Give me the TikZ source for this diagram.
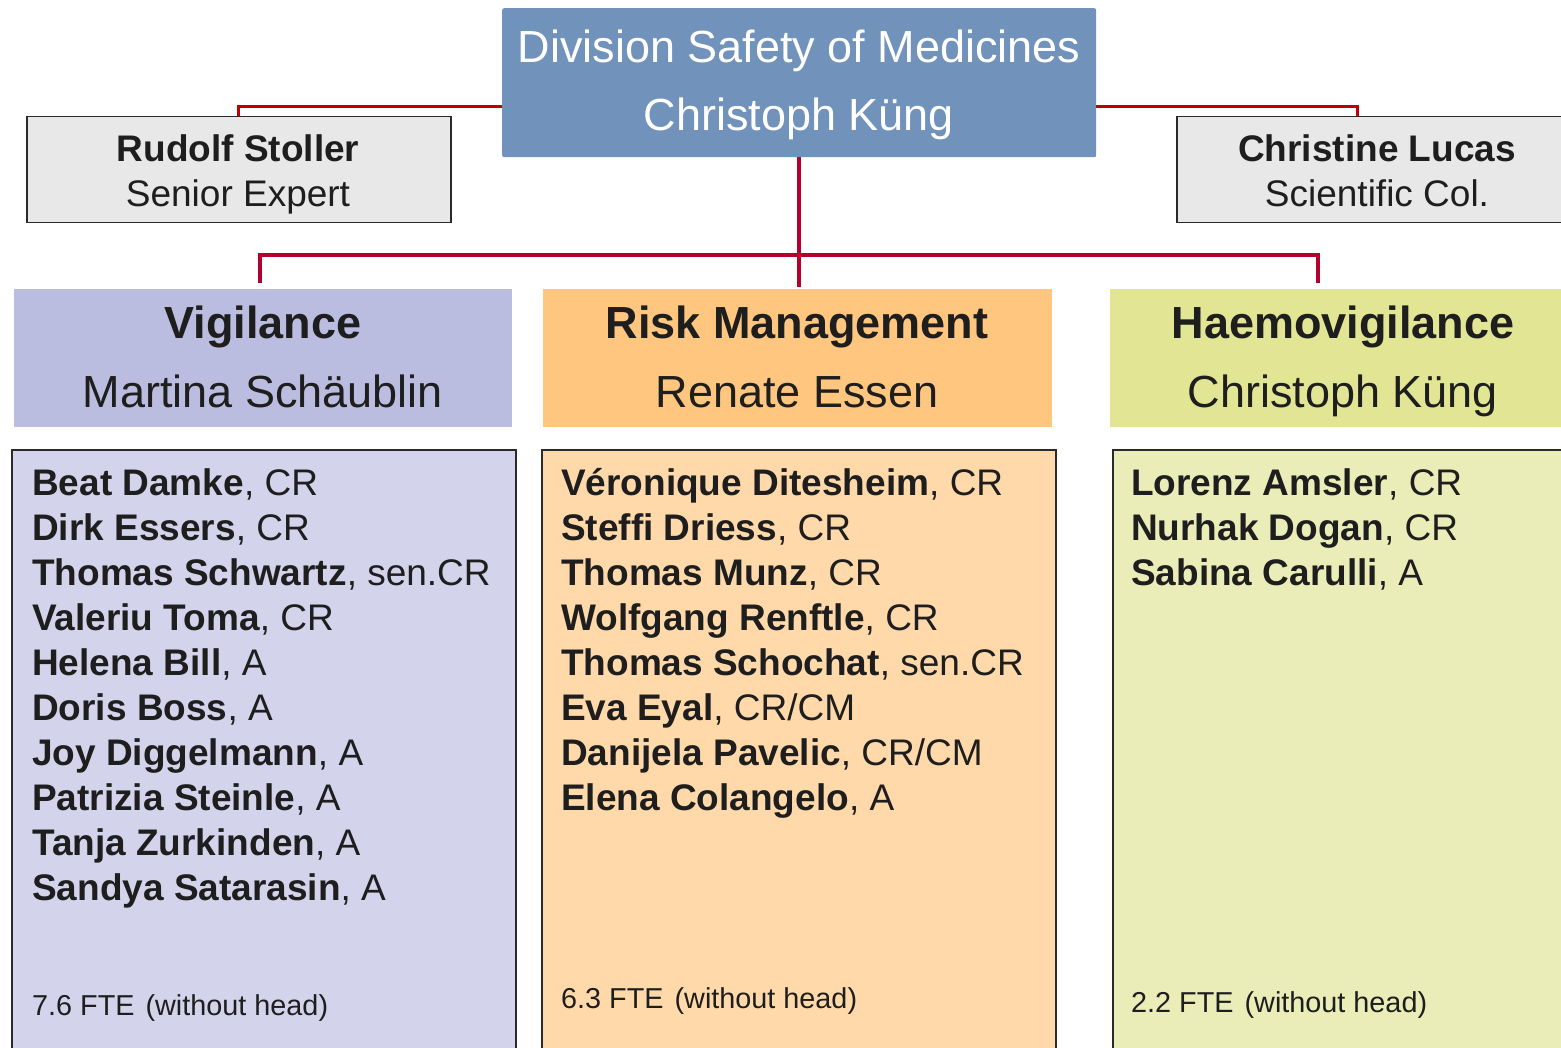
\documentclass[tikz,border=0pt]{standalone}
\usepackage{fontspec}
\setmainfont{Liberation Sans}
\usetikzlibrary{positioning}

\definecolor{headblue}{HTML}{7092BB}
\definecolor{aidegray}{HTML}{E8E8E8}
\definecolor{boxline}{HTML}{2A2A2A}
\definecolor{ink}{HTML}{1E1E1E}
\definecolor{topred}{HTML}{C00000}
\definecolor{busred}{HTML}{B3002C}
\definecolor{vighead}{HTML}{BBBDE0}
\definecolor{vigbody}{HTML}{D3D3EC}
\definecolor{riskhead}{HTML}{FFC680}
\definecolor{riskbody}{HTML}{FFD9AA}
\definecolor{haemohead}{HTML}{E1E594}
\definecolor{haemobody}{HTML}{EBEDB8}

\tikzset{
  chief/.style={rectangle, fill=headblue, rounded corners=2pt, inner sep=0pt, anchor=north west},
  aide/.style={rectangle, draw=boxline, line width=1.5pt, fill=aidegray, inner sep=0pt, anchor=north west},
  unit/.style={rectangle, inner sep=0pt, anchor=north west},
  staff/.style={rectangle, draw=boxline, line width=1.5pt, inner sep=0pt, anchor=north west},
  big/.style={font=\fontsize{45}{54}\selectfont, text=ink, anchor=base, inner sep=0pt},
  mid/.style={font=\fontsize{37}{45}\selectfont, text=ink, inner sep=0pt},
  small/.style={font=\fontsize{28.8}{34}\selectfont, text=ink, anchor=base west, inner sep=0pt},
  topline/.style={draw=topred, line width=3.3pt},
  busline/.style={draw=busred, line width=4pt}
}

\begin{document}
\begin{tikzpicture}[x=1pt,y=-1pt]
    \useasboundingbox (0,0) rectangle (1561,1048);
    \clip (0,0) rectangle (1561,1048);

    % boxes
    \node[chief, minimum width=594pt, minimum height=149pt] (head) at (502,8) {};
    \node[aide, minimum width=424pt, minimum height=106pt] (rudolf) at (26,116) {};
    \node[aide, minimum width=402pt, minimum height=106pt] (christine) at (1176,116) {};

    \node[unit, fill=vighead, minimum width=498pt, minimum height=138pt] (vig) at (14,289) {};
    \node[unit, fill=riskhead, minimum width=509pt, minimum height=138pt] (risk) at (543,289) {};
    \node[unit, fill=haemohead, minimum width=466pt, minimum height=138pt] (haemo) at (1110,289) {};

    \node[staff, fill=vigbody, minimum width=504pt, minimum height=620pt] (vigstaff) at (11,449) {};
    \node[staff, fill=riskbody, minimum width=514pt, minimum height=620pt] (riskstaff) at (541,449) {};
    \node[staff, fill=haemobody, minimum width=470pt, minimum height=620pt] (haemostaff) at (1112,449) {};

    % connectors
    \draw[topline] ([yshift=-24pt]head.west) -| (rudolf.north);
    \draw[topline] ([yshift=-24pt]head.east) -| ([xshift=-20pt]christine.north);
    \coordinate (bus) at (799,255);
    \draw[busline] (head.south) -- ([yshift=2pt]head.south |- risk.north);
    \draw[busline] ([xshift=-3pt,yshift=6pt]vig.north) |- (bus) -| ([xshift=-25pt,yshift=6pt]haemo.north);

    % titles
    \node[big, text=white] (head-a) at (799,63) {Division Safety of Medicines};
    \node[big, text=white] (head-b) at (799,131) {Christoph Küng};

    \node[mid, anchor=base] (rudolf-a) at (238,162) {\textbf{Rudolf Stoller}};
    \node[mid, anchor=base] (rudolf-b) at (238,207) {Senior Expert};
    \node[mid, anchor=base] (christine-a) at (1377,162) {\textbf{Christine Lucas}};
    \node[mid, anchor=base] (christine-b) at (1377,207) {Scientific Col.};

    \node[big] (vig-a) at (263,339) {\textbf{Vigilance}};
    \node[big] (vig-b) at (263,407) {Martina Schäublin};
    \node[big] (risk-a) at (797,339) {\textbf{Risk Management}};
    \node[big] (risk-b) at (797,407) {Renate Essen};
    \node[big] (haemo-a) at (1343,339) {\textbf{Haemovigilance}};
    \node[big] (haemo-b) at (1343,407) {Christoph Küng};

    % staff lists
    \foreach \who/\job [count=\i from 0] in {Beat Damke/CR, Dirk Essers/CR, Thomas Schwartz/sen.CR,
        Valeriu Toma/CR, Helena Bill/A, Doris Boss/A, Joy Diggelmann/A, Patrizia Steinle/A,
        Tanja Zurkinden/A, Sandya Satarasin/A}
        \node[mid, anchor=base west] (vig-\i) at (32,{495+45*\i}) {\textbf{\who}, \job};
    \foreach \who/\job [count=\i from 0] in {Véronique Ditesheim/CR, Steffi Driess/CR, Thomas Munz/CR,
        Wolfgang Renftle/CR, Thomas Schochat/sen.CR, Eva Eyal/{CR/CM}, Danijela Pavelic/{CR/CM},
        Elena Colangelo/A}
        \node[mid, anchor=base west] (risk-\i) at (561,{495+45*\i}) {\textbf{\who}, \job};
    \foreach \who/\job [count=\i from 0] in {Lorenz Amsler/CR, Nurhak Dogan/CR, Sabina Carulli/A}
        \node[mid, anchor=base west] (haemo-\i) at (1131,{495+45*\i}) {\textbf{\who}, \job};

    \node[small] (vig-fte) at (32,1015) {7.6 FTE\hspace{3pt} (without head)};
    \node[small] (risk-fte) at (561,1008) {6.3 FTE\hspace{3pt} (without head)};
    \node[small] (haemo-fte) at (1131,1012) {2.2 FTE\hspace{3pt} (without head)};
\end{tikzpicture}
\end{document}
